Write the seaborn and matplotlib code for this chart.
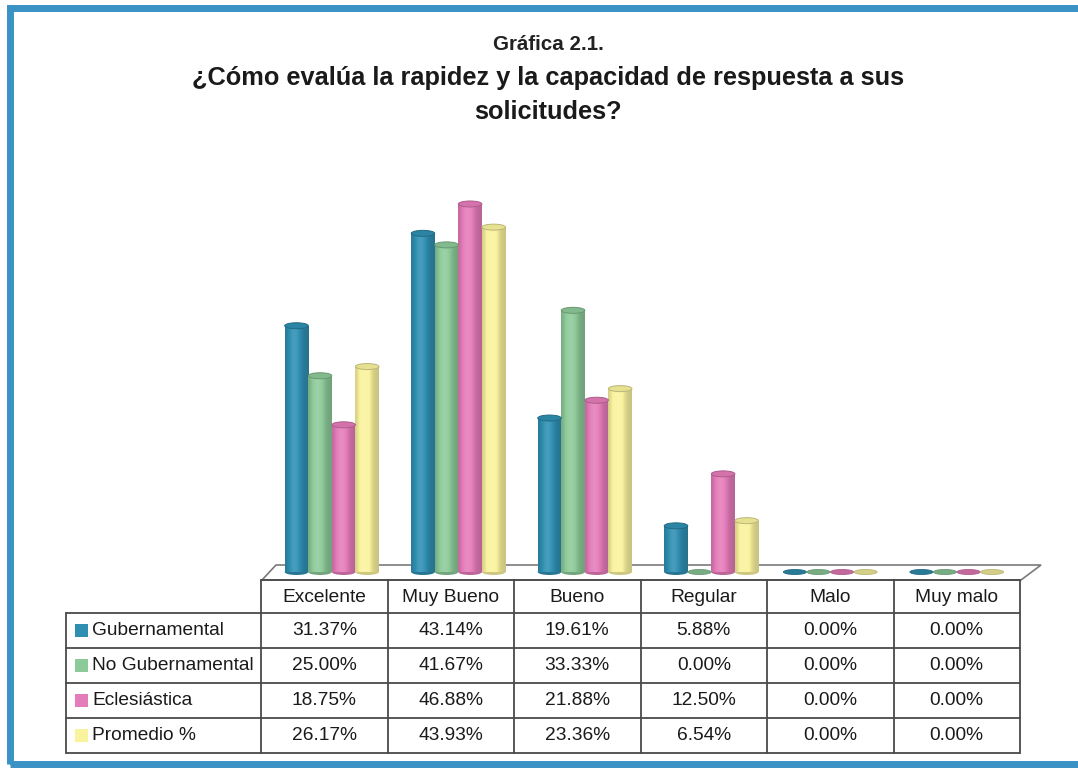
import numpy as np
import pandas as pd
import matplotlib
matplotlib.use('Agg')
import matplotlib.pyplot as plt
import seaborn as sns
from matplotlib.patches import Ellipse, Rectangle, Polygon
from matplotlib.lines import Line2D

# datos de la grafica 2.1
categorias = ["Excelente", "Muy Bueno", "Bueno", "Regular", "Malo", "Muy malo"]
series = ["Gubernamental", "No Gubernamental", "Eclesiástica", "Promedio %"]
gubernamental = [31.37, 43.14, 19.61, 5.88, 0.00, 0.00]
no_gubernamental = [25.00, 41.67, 33.33, 0.00, 0.00, 0.00]
eclesiastica = [18.75, 46.88, 21.88, 12.50, 0.00, 0.00]
promedio = [26.17, 43.93, 23.36, 6.54, 0.00, 0.00]
colores = ["#2f8fb2", "#8dca99", "#e57cba", "#faf39e"]

valores = [gubernamental, no_gubernamental, eclesiastica, promedio]
df = pd.DataFrame({
    "categoria": categorias * 4,
    "serie": [s for s in series for _ in categorias],
    "valor": [v for fila in valores for v in fila],
})

sns.set_style("white")
plt.rcParams['font.family'] = ['Liberation Sans', 'DejaVu Sans']

W, H = 1078, 769
fig = plt.figure(figsize=(W / 100, H / 100), dpi=100)
fig.patch.set_facecolor("white")

def fx(x):
    return x / W

def fy(y):
    return 1 - y / H

# marco azul
fig.add_artist(Rectangle((fx(10), fy(764)), fx(1090) - fx(10), fy(8) - fy(764),
                         transform=fig.transFigure, fill=False,
                         edgecolor="#3b92c4", linewidth=5, zorder=-2))

# titulos
fig.text(fx(548), fy(45), "Gráfica 2.1.", ha="center", va="center",
         fontsize=14.8, fontweight="bold", color="#222222")
fig.text(fx(548), fy(78), "¿Cómo evalúa la rapidez y la capacidad de respuesta a sus",
         ha="center", va="center", fontsize=18.3, fontweight="bold", color="#1a1a1a")
fig.text(fx(548), fy(112), "solicitudes?",
         ha="center", va="center", fontsize=18.3, fontweight="bold", color="#1a1a1a")

# piso 3D
piso = Polygon([(fx(262), fy(580)), (fx(1021), fy(580)), (fx(1041), fy(565)), (fx(276), fy(565))],
               closed=True, transform=fig.transFigure, facecolor="white",
               edgecolor="#7a7a7a", linewidth=1.2, zorder=-1)
fig.add_artist(piso)

escala = 7.85  # px por punto porcentual
ax = fig.add_axes([fx(261), fy(572), fx(1020) - fx(261), (572 - 140) / H])
ax.patch.set_alpha(0)

sns.barplot(data=df, x="categoria", y="valor", hue="serie", order=categorias,
            hue_order=series, palette=colores, saturation=1, width=0.745,
            errorbar=None, legend=False, ax=ax, linewidth=0)

def tono(rgb, f):
    rgb = np.array(rgb[:3])
    if f < 1:
        return rgb * f
    return rgb + (1 - rgb) * (f - 1)

t = np.linspace(0, 1, 60)
perfil = 0.8 + 0.32 * np.exp(-((t - 0.4) / 0.3) ** 2)
alto_elipse = 6 / escala
desplaz = 0.06  # corrimiento de perspectiva de las barras altas
vacias = [i for i in range(len(categorias)) if all(v[i] == 0 for v in valores)]

for p in list(ax.patches):
    x0, w, h = p.get_x(), p.get_width(), p.get_height()
    fc = p.get_facecolor()
    xc = x0 + w / 2
    if h <= 0:
        p.set_visible(False)
        corr = desplaz if int(round(xc)) in vacias else 0
        ax.add_patch(Ellipse((xc - corr, 0), w * 0.98, 5 / escala, facecolor=tono(fc, 0.85),
                             edgecolor=tono(fc, 0.75), linewidth=0.6, clip_on=False, zorder=3))
        continue
    img = np.array([[np.append(np.clip(tono(fc, f), 0, 1), 1) for f in perfil]])
    im = ax.imshow(img, extent=[x0, x0 + w, 0, h], aspect="auto", zorder=2,
                   interpolation="bilinear")
    im.set_clip_path(p)
    ax.add_patch(Ellipse((xc, 0), w, alto_elipse, facecolor=tono(fc, 0.82),
                         edgecolor="none", clip_on=False, zorder=1.5))
    ax.add_patch(Ellipse((xc, h), w, alto_elipse, facecolor=tono(fc, 0.92),
                         edgecolor=tono(fc, 0.75), linewidth=0.7, clip_on=False, zorder=3))

ax.set_xlim(-0.5 - desplaz, 5.5 - desplaz)
ax.set_ylim(0, 432 / escala)
ax.set_xticks([])
ax.set_yticks([])
ax.set_xlabel("")
ax.set_ylabel("")
for s in ax.spines.values():
    s.set_visible(False)

# tabla de datos
col_x = [261 + 126.5 * i for i in range(7)]
filas_y = [580, 613, 648, 683, 718, 753]
gris = "#4a4a4a"

def linea(x1, y1, x2, y2):
    fig.add_artist(Line2D([fx(x1), fx(x2)], [fy(y1), fy(y2)], transform=fig.transFigure,
                          color=gris, linewidth=1.3))

linea(261, 580, 1020, 580)
for y in filas_y[1:]:
    linea(66, y, 1020, y)
for x in col_x:
    linea(x, 580, x, 753)
linea(66, 613, 66, 753)

for i, cat in enumerate(categorias):
    fig.text(fx((col_x[i] + col_x[i + 1]) / 2), fy(598), cat, ha="center", va="center",
             fontsize=13.8, color="#1a1a1a")

for j, (nombre, fila) in enumerate(zip(series, valores)):
    yc = (filas_y[j + 1] + filas_y[j + 2]) / 2
    fig.add_artist(Rectangle((fx(75), fy(yc + 6.5)), 13 / W, 13 / H, transform=fig.transFigure,
                             facecolor=colores[j], edgecolor="none"))
    fig.text(fx(92), fy(yc), nombre, ha="left", va="center", fontsize=13.8, color="#1a1a1a")
    for i, v in enumerate(fila):
        fig.text(fx((col_x[i] + col_x[i + 1]) / 2), fy(yc), f"{v:.2f}%", ha="center",
                 va="center", fontsize=13.8, color="#1a1a1a")

fig.savefig("out.png", dpi=100)
